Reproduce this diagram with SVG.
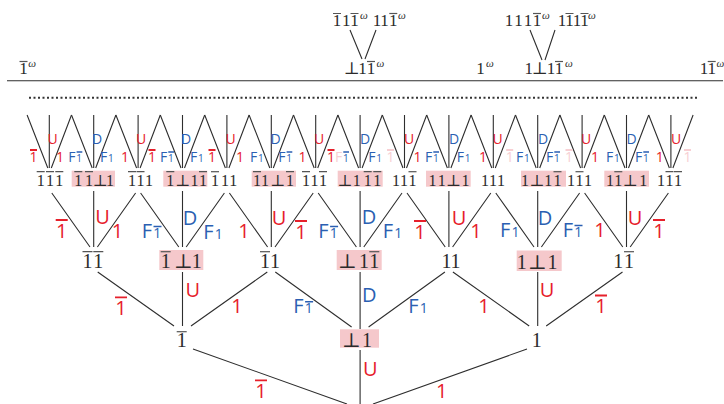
<svg xmlns="http://www.w3.org/2000/svg" width="724" height="404" viewBox="0 0 724 404">
<style>
.c{fill:none;stroke:#2e2e2e;stroke-width:1.1}
.n{font-family:"Liberation Serif","DejaVu Serif",serif;fill:#2b2b2b;text-anchor:middle}
.f3{font-size:16px}
.f2{font-size:20px}
.ft{font-size:17px}
.w{font-style:italic;font-size:11px}
.ob{fill:none;stroke:#555;stroke-width:1.2}
.hl{fill:#f5c8cb}
.t{font-family:"Open Sans","Liberation Sans",sans-serif}
.s{font-size:14px}
.m{font-size:20px}
.ss{font-size:10px}
.ms{font-size:14px}
.a{text-anchor:middle}
.r{fill:#e6202b}
.b{fill:#2b5fb2}
.q{fill:#f7cfd3}
.rb{stroke:#e6202b;stroke-width:1.8;fill:none}
.bb{stroke:#2b5fb2;stroke-width:1.5;fill:none}
.qb{stroke:#f7cfd3;stroke-width:1.8;fill:none}
</style>
<rect width="724" height="404" fill="#fff"/>

<g id="top">
<path class="c" d="M7 80.7H723" stroke-width="1.3"/>
<path d="M29 97.7H699" fill="none" stroke="#333" stroke-width="2" stroke-dasharray="2 2.5"/>
<path class="c" d="M350 30L362 59M376 30L365 59M530 30L542 60M555 30L545 60"/>
<g id="top-a"><text class="n ft" y="74"><tspan x="23.5">1</tspan><tspan class="w" x="32.2" y="67">ω</tspan></text><path class="ob" d="M19.5 61.5h8"/></g>
<g id="top-b"><text class="n ft" y="74"><tspan x="351.7">⊥</tspan><tspan x="362.5">1</tspan><tspan x="371">1</tspan><tspan class="w" x="380.5" y="67">ω</tspan></text><path class="ob" d="M367 61.5h8"/></g>
<g id="top-c"><text class="n ft" y="74"><tspan x="480.5">1</tspan><tspan class="w" x="490" y="67">ω</tspan></text></g>
<g id="top-d"><text class="n ft" y="74"><tspan x="528.8">1</tspan><tspan x="539.7">⊥</tspan><tspan x="551">1</tspan><tspan x="559">1</tspan><tspan class="w" x="569" y="67">ω</tspan></text><path class="ob" d="M555 61.5h8"/></g>
<g id="top-e"><text class="n ft" y="74"><tspan x="704">1</tspan><tspan x="711.7">1</tspan><tspan class="w" x="720.5" y="67">ω</tspan></text><path class="ob" d="M707.7 61.5h8"/></g>
<g id="top-f"><text class="n ft" y="26"><tspan x="337">1</tspan><tspan x="346.3">1</tspan><tspan x="354.5">1</tspan><tspan class="w" x="364" y="19">ω</tspan></text><path class="ob" d="M333 13.5h8M350.5 13.5h8"/></g>
<g id="top-g"><text class="n ft" y="26"><tspan x="377">1</tspan><tspan x="384.5">1</tspan><tspan x="393.3">1</tspan><tspan class="w" x="402" y="19">ω</tspan></text><path class="ob" d="M389.3 13.5h8"/></g>
<g id="top-h"><text class="n ft" y="26"><tspan x="509">1</tspan><tspan x="518.5">1</tspan><tspan x="528">1</tspan><tspan x="537">1</tspan><tspan class="w" x="546" y="19">ω</tspan></text><path class="ob" d="M533 13.5h8"/></g>
<g id="top-i"><text class="n ft" y="26"><tspan x="562">1</tspan><tspan x="569.5">1</tspan><tspan x="577">1</tspan><tspan x="584.5">1</tspan><tspan class="w" x="592" y="19">ω</tspan></text><path class="ob" d="M565.5 13.5h8M580.5 13.5h8"/></g>
</g>

<g id="connectors" class="c">
<path d="M27.1 115L47.8 168M49.3 115V168M71.5 115L51.3 168"/>
<path d="M71.5 115L92.2 168M93.7 115V168M115.9 115L95.7 168"/>
<path d="M115.9 115L136.6 168M138.1 115V168M160.3 115L140.1 168"/>
<path d="M160.3 115L181 168M182.5 115V168M204.7 115L184.5 168"/>
<path d="M204.7 115L225.4 168M226.9 115V168M249.1 115L228.9 168"/>
<path d="M249.1 115L269.8 168M271.3 115V168M293.5 115L273.3 168"/>
<path d="M293.5 115L314.2 168M315.7 115V168M337.9 115L317.7 168"/>
<path d="M337.9 115L358.6 168M360.1 115V168M382.3 115L362.1 168"/>
<path d="M382.3 115L403 168M404.5 115V168M426.7 115L406.5 168"/>
<path d="M426.7 115L447.4 168M448.9 115V168M471.1 115L450.9 168"/>
<path d="M471.1 115L491.8 168M493.3 115V168M515.5 115L495.3 168"/>
<path d="M515.5 115L536.2 168M537.7 115V168M559.9 115L539.7 168"/>
<path d="M559.9 115L580.6 168M582.1 115V168M604.3 115L584.1 168"/>
<path d="M604.3 115L625 168M626.5 115V168M648.7 115L628.5 168"/>
<path d="M648.7 115L669.4 168M670.9 115V168M693.1 115L672.9 168"/>
<path d="M90 247L51.8 193M93.7 191V247M97.4 247L135.6 193"/>
<path d="M178.8 247L140.6 193M182.5 191V247M186.2 247L224.4 193"/>
<path d="M267.6 247L229.4 193M271.3 191V247M275 247L313.2 193"/>
<path d="M356.4 247L318.2 193M360.1 191V247M363.8 247L402 193"/>
<path d="M445.2 247L407 193M448.9 191V247M452.6 247L490.8 193"/>
<path d="M534 247L495.8 193M537.7 191V247M541.4 247L579.6 193"/>
<path d="M622.8 247L584.6 193M626.5 191V247M630.2 247L668.4 193"/>
<path d="M174 326L97.7 272M182.5 272V326M191 326L267.3 272"/>
<path d="M351.6 327L275.3 272M360.1 272V329M368.6 327L444.9 272"/>
<path d="M529.2 326L452.9 272M537.7 272V326M546.2 326L622.5 272"/>
<path d="M193 349L347 404M360.1 350V404M527 349L373 404"/>
</g>

<g id="edge-labels">
<text class="t s a r" x="33.5" y="161.5">1</text><text class="t s a r" x="52.5" y="143.5">U</text><text class="t s a r" x="60" y="161.5">1</text>
<text class="t s b" x="68.3" y="161.5">F<tspan class="ss" x="76.3">1</tspan></text><text class="t s a b" x="97" y="143.5">D</text><text class="t s b" x="100" y="161.5">F<tspan class="ss" x="108">1</tspan></text>
<text class="t s a r" x="125" y="161.5">1</text><text class="t s a r" x="141" y="143.5">U</text><text class="t s a r" x="152" y="161.5">1</text>
<text class="t s b" x="160" y="161.5">F<tspan class="ss" x="168">1</tspan></text><text class="t s a b" x="186" y="143.5">D</text><text class="t s b" x="190" y="161.5">F<tspan class="ss" x="198">1</tspan></text>
<text class="t s a r" x="212" y="161.5">1</text><text class="t s a r" x="230.5" y="143.5">U</text><text class="t s a r" x="240" y="161.5">1</text>
<text class="t s b" x="250" y="161.5">F<tspan class="ss" x="258">1</tspan></text><text class="t s a b" x="275.5" y="143.5">D</text><text class="t s b" x="278.3" y="161.5">F<tspan class="ss" x="286.3">1</tspan></text>
<text class="t s a r" x="302.5" y="161.5">1</text><text class="t s a r" x="319" y="143.5">U</text><text class="t s a r" x="331" y="161.5">1</text>
<text class="t s q" x="335" y="161.5">F<tspan class="ss b" x="343">1</tspan></text><text class="t s a b" x="365" y="143.5">D</text><text class="t s b" x="368.3" y="161.5">F<tspan class="ss" x="376.3">1</tspan></text>
<text class="t s a q" x="390.5" y="161.5">1</text><text class="t s a r" x="409" y="143.5">U</text><text class="t s a r" x="417.5" y="161.5">1</text>
<text class="t s b" x="425" y="161.5">F<tspan class="ss" x="433">1</tspan></text><text class="t s a b" x="454" y="143.5">D</text><text class="t s b" x="456.7" y="161.5">F<tspan class="ss" x="464.7">1</tspan></text>
<text class="t s a r" x="483" y="161.5">1</text><text class="t s a r" x="497.5" y="143.5">U</text><text class="t s a q" x="509.7" y="161.5">1</text>
<text class="t s b" x="516" y="161.5">F<tspan class="ss" x="524">1</tspan></text><text class="t s a b" x="543" y="143.5">D</text><text class="t s b" x="546" y="161.5">F<tspan class="ss" x="554">1</tspan></text>
<text class="t s a q" x="569" y="161.5">1</text><text class="t s a r" x="586" y="143.5">U</text><text class="t s a r" x="595" y="161.5">1</text>
<text class="t s b" x="606" y="161.5">F<tspan class="ss" x="614">1</tspan></text><text class="t s a b" x="631.7" y="143.5">D</text><text class="t s b" x="635" y="161.5">F<tspan class="ss" x="643">1</tspan></text>
<text class="t s a r" x="659.7" y="161.5">1</text><text class="t s a r" x="676" y="143.5">U</text><text class="t s a q" x="687.5" y="161.5">1</text>
<path class="rb" d="M30 150h7M148.5 150h7M208.5 150h7M327.5 150h7"/>
<path class="qb" d="M387 150h7M506.2 150h7M565.5 150h7M684 150h7"/>
<path class="bb" d="M76.6 152h5.7M168.3 152h5.7M286.6 152h5.7M343.3 152h5.7M433.3 152h5.7M554.3 152h5.7M643.3 152h5.7"/>

<text class="t m a r" x="61.7" y="238">1</text><text class="t m a r" x="102.5" y="223.5">U</text><text class="t m a r" x="117.5" y="237.5">1</text>
<text class="t m b" x="141.7" y="238">F<tspan class="ms" x="153.2">1</tspan></text><text class="t m a b" x="190" y="225">D</text><text class="t m b" x="203.3" y="239">F<tspan class="ms" x="214.8">1</tspan></text>
<text class="t m a r" x="244" y="238">1</text><text class="t m a r" x="279" y="225">U</text><text class="t m a r" x="301" y="239">1</text>
<text class="t m b" x="318.3" y="238">F<tspan class="ms" x="329.8">1</tspan></text><text class="t m a b" x="369" y="223.5">D</text><text class="t m b" x="382.7" y="238">F<tspan class="ms" x="394.2">1</tspan></text>
<text class="t m a r" x="420" y="239">1</text><text class="t m a r" x="459" y="225">U</text><text class="t m a r" x="476" y="238">1</text>
<text class="t m b" x="500" y="237">F<tspan class="ms" x="511.5">1</tspan></text><text class="t m a b" x="545" y="225">D</text><text class="t m b" x="562.7" y="237">F<tspan class="ms" x="574.2">1</tspan></text>
<text class="t m a r" x="600" y="237">1</text><text class="t m a r" x="635" y="225">U</text><text class="t m a r" x="659" y="238">1</text>
<path class="rb" d="M55.7 220h12M295 221h12M414 221h12M653 220h12M115 297.3h12M595 295.5h12M255 380.3h12" stroke-width="2"/>
<path class="bb" d="M153.5 226.5h8M330.1 226.5h8M574.5 225.5h8M305.1 301.8h8" stroke-width="1.8"/>

<text class="t m a r" x="121" y="315">1</text><text class="t m a r" x="192.7" y="297.3">U</text><text class="t m a r" x="237" y="312.7">1</text>
<text class="t m b" x="293.3" y="313.3">F<tspan class="ms" x="304.8">1</tspan></text><text class="t m a b" x="369.3" y="301.7">D</text><text class="t m b" x="408.3" y="312.7">F<tspan class="ms" x="419.8">1</tspan></text>
<text class="t m a r" x="484" y="312.7">1</text><text class="t m a r" x="547" y="296.7">U</text><text class="t m a r" x="601" y="313.3">1</text>

<text class="t m a r" x="261" y="398.3">1</text><text class="t m a r" x="370.3" y="376">U</text><text class="t m a r" x="441.7" y="398.3">1</text>
</g>

<g id="n3-0"><text class="n f3" y="185.5"><tspan x="40.7">1</tspan><tspan x="50">1</tspan><tspan x="59.3">1</tspan></text><path class="ob" d="M36.7 171.7h8M46 171.7h8M55.3 171.7h8"/></g>
<g id="n3-1"><rect class="hl" x="71.7" y="170.7" width="43.3" height="16"/><text class="n f3" y="185.5"><tspan x="78.3">1</tspan><tspan x="89">1</tspan><tspan x="100">⊥</tspan><tspan x="110">1</tspan></text><path class="ob" d="M74.3 171.7h8M85 171.7h8"/></g>
<g id="n3-2"><text class="n f3" y="185.5"><tspan x="132">1</tspan><tspan x="140.5">1</tspan><tspan x="149">1</tspan></text><path class="ob" d="M128 171.7h8M136.5 171.7h8"/></g>
<g id="n3-3"><rect class="hl" x="163.3" y="170.7" width="44" height="16"/><text class="n f3" y="185.5"><tspan x="170.3">1</tspan><tspan x="182.5">⊥</tspan><tspan x="194.5">1</tspan><tspan x="203">1</tspan></text><path class="ob" d="M166.3 171.7h8M199 171.7h8"/></g>
<g id="n3-4"><text class="n f3" y="185.5"><tspan x="215">1</tspan><tspan x="225">1</tspan><tspan x="233.3">1</tspan></text><path class="ob" d="M211 171.7h8"/></g>
<g id="n3-5"><rect class="hl" x="251.7" y="170.7" width="44.3" height="16"/><text class="n f3" y="185.5"><tspan x="257">1</tspan><tspan x="265">1</tspan><tspan x="277.5">⊥</tspan><tspan x="290">1</tspan></text><path class="ob" d="M253 171.7h8M286 171.7h8"/></g>
<g id="n3-6"><text class="n f3" y="185.5"><tspan x="306">1</tspan><tspan x="314.5">1</tspan><tspan x="323">1</tspan></text><path class="ob" d="M302 171.7h8M319 171.7h8"/></g>
<g id="n3-7"><rect class="hl" x="337.7" y="170.7" width="45" height="16"/><text class="n f3" y="185.5"><tspan x="344.7">⊥</tspan><tspan x="356.7">1</tspan><tspan x="367.7">1</tspan><tspan x="377.3">1</tspan></text><path class="ob" d="M363.7 171.7h8M373.3 171.7h8"/></g>
<g id="n3-8"><text class="n f3" y="185.5"><tspan x="396">1</tspan><tspan x="404">1</tspan><tspan x="412.5">1</tspan></text><path class="ob" d="M408.5 171.7h8"/></g>
<g id="n3-9"><rect class="hl" x="426" y="170.7" width="44.7" height="16"/><text class="n f3" y="185.5"><tspan x="432.5">1</tspan><tspan x="441.7">1</tspan><tspan x="453.3">⊥</tspan><tspan x="465.5">1</tspan></text></g>
<g id="n3-10"><text class="n f3" y="185.5"><tspan x="485">1</tspan><tspan x="493">1</tspan><tspan x="501">1</tspan></text></g>
<g id="n3-11"><rect class="hl" x="521" y="170.7" width="45" height="16"/><text class="n f3" y="185.5"><tspan x="525">1</tspan><tspan x="536.7">⊥</tspan><tspan x="548.3">1</tspan><tspan x="557.5">1</tspan></text><path class="ob" d="M553.5 171.7h8"/></g>
<g id="n3-12"><text class="n f3" y="185.5"><tspan x="571">1</tspan><tspan x="579.5">1</tspan><tspan x="588">1</tspan></text><path class="ob" d="M575.5 171.7h8"/></g>
<g id="n3-13"><rect class="hl" x="604.3" y="170.7" width="44.7" height="16"/><text class="n f3" y="185.5"><tspan x="610">1</tspan><tspan x="618.3">1</tspan><tspan x="630">⊥</tspan><tspan x="643.3">1</tspan></text><path class="ob" d="M614.3 171.7h8"/></g>
<g id="n3-14"><text class="n f3" y="185.5"><tspan x="661">1</tspan><tspan x="669.5">1</tspan><tspan x="678">1</tspan></text><path class="ob" d="M665.5 171.7h8M674 171.7h8"/></g>

<g id="n2-0"><text class="n f2" y="268"><tspan x="87.5">1</tspan><tspan x="98.3">1</tspan></text><path class="ob" d="M82.5 251.7h10M93.3 251.7h10"/></g>
<g id="n2-1"><rect class="hl" x="159.3" y="250" width="44" height="20"/><text class="n f2" y="268"><tspan x="165.7">1</tspan><tspan x="183.3">⊥</tspan><tspan x="196.7">1</tspan></text><path class="ob" d="M160.7 251.7h10"/></g>
<g id="n2-2"><text class="n f2" y="268"><tspan x="265">1</tspan><tspan x="275">1</tspan></text><path class="ob" d="M260 251.7h10"/></g>
<g id="n2-3"><rect class="hl" x="336.7" y="250" width="45" height="20"/><text class="n f2" y="268"><tspan x="347.3">⊥</tspan><tspan x="364">1</tspan><tspan x="374.3">1</tspan></text><path class="ob" d="M369.3 251.7h10"/></g>
<g id="n2-4"><text class="n f2" y="268"><tspan x="446.5">1</tspan><tspan x="455.5">1</tspan></text></g>
<g id="n2-5"><rect class="hl" x="516.7" y="250.5" width="45" height="20.5"/><text class="n f2" y="268.5"><tspan x="521.7">1</tspan><tspan x="537.5">⊥</tspan><tspan x="552.5">1</tspan></text></g>
<g id="n2-6"><text class="n f2" y="268"><tspan x="618.3">1</tspan><tspan x="629">1</tspan></text><path class="ob" d="M624 251.7h10"/></g>

<g id="n1-0"><text class="n f2" y="347"><tspan x="181.7">1</tspan></text><path class="ob" d="M176.7 331.7h10"/></g>
<g id="n1-1"><rect class="hl" x="340" y="329.3" width="39" height="18.4"/><text class="n f2" y="346.5"><tspan x="351.5">⊥</tspan><tspan x="367">1</tspan></text></g>
<g id="n1-2"><text class="n f2" y="347"><tspan x="536.7">1</tspan></text></g>
</svg>
